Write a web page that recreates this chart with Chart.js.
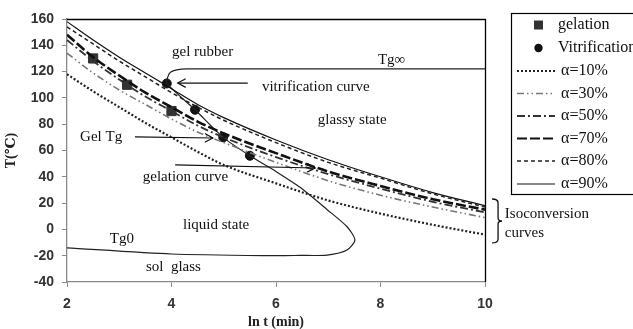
<!DOCTYPE html>
<html><head><meta charset="utf-8">
<script src="https://cdn.jsdelivr.net/npm/chart.js@4/dist/chart.umd.min.js"></script>
<style>html,body{margin:0;padding:0;background:#fff;}#wrap{width:633px;height:329px;position:relative;}</style>
</head><body><div id="wrap"><canvas id="c" width="633" height="329"></canvas></div>
<script>
// ---- data ----
const lnT = [2, 2.5, 3, 3.5, 4, 4.5, 5, 6, 7, 8, 9, 10];
const alpha10 = [118, 105, 93, 81, 70, 59, 49, 35, 22, 12, 3.5, -4];
const alpha30 = [134, 119, 106, 95, 84, 74, 66, 51, 37, 26, 17, 9];
const alpha50 = [144, 128, 114, 101, 90, 79, 70, 55, 42, 31, 21, 13];
const alpha70 = [148, 131, 117, 104, 93, 82, 73, 58, 44, 33, 23, 15];
const alpha80 = [154, 141, 128, 116, 104, 93, 83, 66, 51, 39, 27, 17];
const alpha90 = [158, 144, 131, 119, 107, 95, 85, 68, 53, 40, 28, 18];

const gelX = [2.5, 3.15, 4.0];
const gelY = [130, 110, 90];
const vitDotX = [3.91, 4.45, 4.99, 5.5];
const vitDotY = [111, 91, 70, 56];

// Tg-infinity line + vitrification curve + Tg0 line
const vitCurveX = [10, 4.3, 4.1, 3.98, 3.93, 3.91, 4.45, 4.99, 5.5, 6.0, 6.46, 6.98, 7.36, 7.51, 7.36, 6.98, 6.46, 6.0, 4.0, 2.0];
const vitCurveY = [122, 122, 121.3, 119.5, 116, 111, 91, 70, 56, 44, 32, 15, 2, -8, -15.7, -19.5, -19.8, -20, -18.7, -14];

const xTicks = [2, 4, 6, 8, 10];
const yTicks = [-40, -20, 0, 20, 40, 60, 80, 100, 120, 140, 160];

const legendLabels = ['gelation', 'Vitrification', 'α=10%', 'α=30%', 'α=50%', 'α=70%', 'α=80%', 'α=90%'];

const annoText = ['gel rubber', 'vitrification curve', 'glassy state', 'Tg∞', 'Gel Tg', 'gelation curve', 'liquid state', 'Tg0', 'sol  glass', 'Isoconversion', 'curves'];
const annoX = [4.01, 5.73, 6.80, 7.95, 2.25, 3.45, 4.22, 2.82, 3.51, 10.38, 10.38];
const annoY = [134.9, 108.3, 83.2, 128.8, 70.3, 39.8, 3.3, -7.3, -28.6, 11.7, -2.7];

// arrows: start -> end (head at end)
const arrowX1 = [5.46, 3.30, 4.07];
const arrowY1 = [111.3, 70.3, 49.0];
const arrowX2 = [4.12, 4.79, 6.75];
const arrowY2 = [111.3, 69.5, 46.7];

// bracket for isoconversion curves
const bracketX = 10.25;
const bracketTop = 23.1;
const bracketBottom = -10.3;

// ---- chart ----
function pts(xa, ya) { return xa.map((x, i) => ({x: x, y: ya[i]})); }

const lineStyles = [
  {data: alpha10, color: '#222', dash: [2, 2], w: 2.2},
  {data: alpha30, color: '#777', dash: [7, 3, 1.5, 3, 1.5, 3], w: 1.6},
  {data: alpha50, color: '#333', dash: [8, 3, 2, 3], w: 1.8},
  {data: alpha70, color: '#111', dash: [10, 3], w: 2.6},
  {data: alpha80, color: '#222', dash: [4, 3], w: 1.5},
  {data: alpha90, color: '#111', dash: [], w: 1.2}
];

const datasets = lineStyles.map((s, i) => ({
  label: legendLabels[i + 2],
  data: pts(lnT, s.data),
  showLine: true,
  borderColor: s.color,
  borderDash: s.dash,
  borderWidth: s.w,
  pointRadius: 0,
  tension: 0.4,
  cubicInterpolationMode: 'monotone',
  fill: false
}));
datasets.push({
  label: 'vit',
  data: pts(vitCurveX, vitCurveY),
  showLine: true,
  borderColor: '#222',
  borderWidth: 1.2,
  pointRadius: 0,
  tension: 0.25,
  fill: false
});
datasets.push({
  label: legendLabels[0],
  data: pts(gelX, gelY),
  showLine: false,
  pointStyle: 'rect',
  pointRadius: 6.5,
  backgroundColor: '#333',
  borderColor: '#333'
});
datasets.push({
  label: legendLabels[1],
  data: pts(vitDotX, vitDotY),
  showLine: false,
  pointStyle: 'circle',
  pointRadius: 4.5,
  backgroundColor: '#111',
  borderColor: '#111'
});

const serif = '"Liberation Serif", "DejaVu Serif", serif';

const framePlugin = {
  id: 'frame',
  beforeDatasetsDraw(chart) {
    const {ctx, chartArea: a} = chart;
    ctx.save();
    ctx.strokeStyle = '#000';
    ctx.lineWidth = 1.3;
    ctx.beginPath();
    ctx.moveTo(a.left, a.top + 0.5);
    ctx.lineTo(a.right + 0.5, a.top + 0.5);
    ctx.lineTo(a.right + 0.5, a.bottom);
    ctx.stroke();
    ctx.restore();
  }
};

const annoPlugin = {
  id: 'anno',
  afterDatasetsDraw(chart) {
    const {ctx} = chart;
    const xs = chart.scales.x, ys = chart.scales.y;
    ctx.save();
    ctx.fillStyle = '#111';
    ctx.font = '15px ' + serif;
    ctx.textAlign = 'left';
    ctx.textBaseline = 'middle';
    annoText.forEach((t, i) => {
      ctx.fillText(t, xs.getPixelForValue(annoX[i]), ys.getPixelForValue(annoY[i]));
    });
    // arrows
    ctx.strokeStyle = '#111';
    ctx.lineWidth = 1.2;
    arrowX1.forEach((x1, i) => {
      const px1 = xs.getPixelForValue(x1), py1 = ys.getPixelForValue(arrowY1[i]);
      const px2 = xs.getPixelForValue(arrowX2[i]), py2 = ys.getPixelForValue(arrowY2[i]);
      ctx.beginPath();
      ctx.moveTo(px1, py1); ctx.lineTo(px2, py2); ctx.stroke();
      const ang = Math.atan2(py2 - py1, px2 - px1);
      const L = 9, spread = 0.5;
      ctx.beginPath();
      ctx.moveTo(px2 - L * Math.cos(ang - spread), py2 - L * Math.sin(ang - spread));
      ctx.lineTo(px2, py2);
      ctx.lineTo(px2 - L * Math.cos(ang + spread), py2 - L * Math.sin(ang + spread));
      ctx.stroke();
    });
    // bracket
    const bx = xs.getPixelForValue(bracketX);
    const bt = ys.getPixelForValue(bracketTop), bb = ys.getPixelForValue(bracketBottom);
    const bm = (bt + bb) / 2;
    ctx.lineWidth = 1.3;
    ctx.beginPath();
    ctx.moveTo(bx - 6, bt);
    ctx.quadraticCurveTo(bx, bt, bx, bt + 4);
    ctx.lineTo(bx, bm - 3);
    ctx.quadraticCurveTo(bx, bm, bx + 4, bm);
    ctx.quadraticCurveTo(bx, bm, bx, bm + 3);
    ctx.lineTo(bx, bb - 4);
    ctx.quadraticCurveTo(bx, bb, bx - 6, bb);
    ctx.stroke();
    ctx.restore();
  }
};

const legendPlugin = {
  id: 'boxLegend',
  afterDraw(chart) {
    const {ctx} = chart;
    const ds = chart.data.datasets;
    ctx.save();
    ctx.strokeStyle = '#000';
    ctx.lineWidth = 1.2;
    ctx.strokeRect(511.5, 13.5, 130, 181);
    const rowY = [25, 48, 71, 93.5, 116, 138.5, 161, 184];
    ctx.font = '16px ' + serif;
    ctx.textBaseline = 'middle';
    ctx.fillStyle = '#111';
    legendLabels.forEach((lab, i) => {
      const y = rowY[i];
      if (i === 0) {
        ctx.fillStyle = '#333';
        ctx.fillRect(534, y - 4.5, 9, 9);
      } else if (i === 1) {
        ctx.fillStyle = '#111';
        ctx.beginPath(); ctx.arc(538.5, y, 4.2, 0, Math.PI * 2); ctx.fill();
      } else {
        const d = ds[i - 2];
        ctx.strokeStyle = d.borderColor;
        ctx.lineWidth = Math.min(d.borderWidth, 2);
        ctx.setLineDash(d.borderDash);
        ctx.beginPath(); ctx.moveTo(517, y); ctx.lineTo(555, y); ctx.stroke();
        ctx.setLineDash([]);
      }
      ctx.fillStyle = '#111';
      ctx.fillText(lab, i < 2 ? 558 : 561, y);
    });
    ctx.restore();
  }
};

new Chart(document.getElementById('c'), {
  type: 'scatter',
  data: {datasets: datasets},
  options: {
    responsive: false,
    animation: false,
    devicePixelRatio: 1,
    layout: {padding: {left: 0, top: 19, right: 148, bottom: 0}},
    plugins: {legend: {display: false}, tooltip: {enabled: false}},
    scales: {
      x: {
        type: 'linear', min: 2, max: 10,
        afterBuildTicks: s => { s.ticks = xTicks.map(v => ({value: v})); },
        afterFit: s => { s.height = 47; },
        grid: {drawOnChartArea: false, drawTicks: true, tickLength: 5, color: '#888'},
        border: {display: true, color: '#888', width: 1.3},
        ticks: {padding: 9, color: '#333', font: {family: '"Liberation Sans", Arial, sans-serif', size: 14, weight: 'bold'}},
        title: {display: true, text: 'ln t (min)', color: '#222', padding: 0, font: {family: serif, size: 14, weight: 'bold', lineHeight: 1}}
      },
      y: {
        type: 'linear', min: -40, max: 160,
        afterBuildTicks: s => { s.ticks = yTicks.map(v => ({value: v})); },
        afterFit: s => { s.width = 67; },
        grid: {drawOnChartArea: false, drawTicks: true, tickLength: 5, color: '#888'},
        border: {display: true, color: '#888', width: 1.3},
        ticks: {padding: 8, color: '#333', font: {family: '"Liberation Sans", Arial, sans-serif', size: 14, weight: 'bold'}},
        title: {display: true, text: 'T(℃)', color: '#222', padding: {top: 4, bottom: 0}, font: {family: serif, size: 14, weight: 'bold', lineHeight: 1.1}}
      }
    }
  },
  plugins: [framePlugin, annoPlugin, legendPlugin]
});
</script></body></html>
